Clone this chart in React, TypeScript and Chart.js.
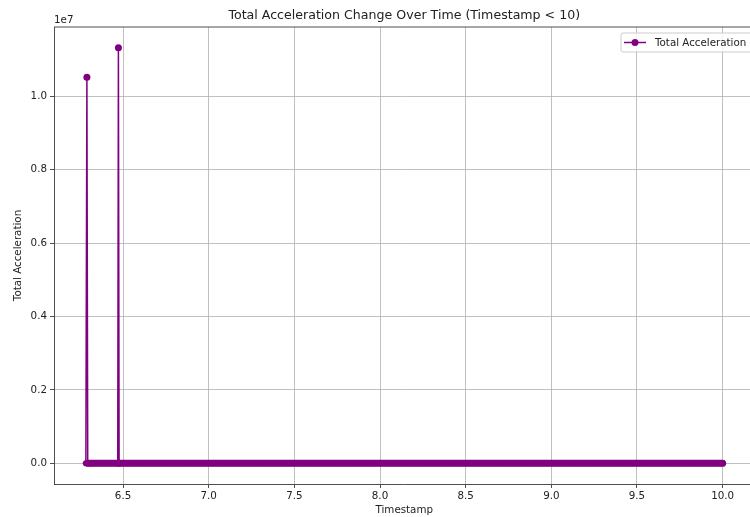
import { useEffect, useRef } from "react";
import { Chart, registerables } from "chart.js";

Chart.register(...registerables);

const TITLE = "Total Acceleration Change Over Time (Timestamp < 10)";
const X_LABEL = "Timestamp";
const Y_LABEL = "Total Acceleration";
const SERIES_LABEL = "Total Acceleration";
const Y_OFFSET_TEXT = "1e7";
const X_TICKS = [6.5, 7.0, 7.5, 8.0, 8.5, 9.0, 9.5, 10.0];
const Y_TICKS = [0, 0.2e7, 0.4e7, 0.6e7, 0.8e7, 1.0e7];

const timestamps = [
  6.283, 6.289, 6.294, 6.3, 6.31, 6.32, 6.33, 6.35, 6.37, 6.39, 6.41, 6.43, 6.45, 6.469, 6.473, 6.477,
  6.49, 6.51, 6.53, 6.55, 6.57, 6.59, 6.61, 6.63, 6.65, 6.67,
  6.69, 6.71, 6.73, 6.75, 6.77, 6.79, 6.81, 6.83, 6.85, 6.87,
  6.89, 6.91, 6.93, 6.95, 6.97, 6.99, 7.01, 7.03, 7.05, 7.07,
  7.09, 7.11, 7.13, 7.15, 7.17, 7.19, 7.21, 7.23, 7.25, 7.27,
  7.29, 7.31, 7.33, 7.35, 7.37, 7.39, 7.41, 7.43, 7.45, 7.47,
  7.49, 7.51, 7.53, 7.55, 7.57, 7.59, 7.61, 7.63, 7.65, 7.67,
  7.69, 7.71, 7.73, 7.75, 7.77, 7.79, 7.81, 7.83, 7.85, 7.87,
  7.89, 7.91, 7.93, 7.95, 7.97, 7.99, 8.01, 8.03, 8.05, 8.07,
  8.09, 8.11, 8.13, 8.15, 8.17, 8.19, 8.21, 8.23, 8.25, 8.27,
  8.29, 8.31, 8.33, 8.35, 8.37, 8.39, 8.41, 8.43, 8.45, 8.47,
  8.49, 8.51, 8.53, 8.55, 8.57, 8.59, 8.61, 8.63, 8.65, 8.67,
  8.69, 8.71, 8.73, 8.75, 8.77, 8.79, 8.81, 8.83, 8.85, 8.87,
  8.89, 8.91, 8.93, 8.95, 8.97, 8.99, 9.01, 9.03, 9.05, 9.07,
  9.09, 9.11, 9.13, 9.15, 9.17, 9.19, 9.21, 9.23, 9.25, 9.27,
  9.29, 9.31, 9.33, 9.35, 9.37, 9.39, 9.41, 9.43, 9.45, 9.47,
  9.49, 9.51, 9.53, 9.55, 9.57, 9.59, 9.61, 9.63, 9.65, 9.67,
  9.69, 9.71, 9.73, 9.75, 9.77, 9.79, 9.81, 9.83, 9.85, 9.87,
  9.89, 9.91, 9.93, 9.95, 9.97, 9.99, 10.0,
];

const accel = [
  0, 1.052e7, 0, 0, 0, 0, 0, 0, 0, 0, 0, 0, 0, 0, 1.132e7, 0,
  0, 0, 0, 0, 0, 0, 0, 0, 0, 0,
  0, 0, 0, 0, 0, 0, 0, 0, 0, 0,
  0, 0, 0, 0, 0, 0, 0, 0, 0, 0,
  0, 0, 0, 0, 0, 0, 0, 0, 0, 0,
  0, 0, 0, 0, 0, 0, 0, 0, 0, 0,
  0, 0, 0, 0, 0, 0, 0, 0, 0, 0,
  0, 0, 0, 0, 0, 0, 0, 0, 0, 0,
  0, 0, 0, 0, 0, 0, 0, 0, 0, 0,
  0, 0, 0, 0, 0, 0, 0, 0, 0, 0,
  0, 0, 0, 0, 0, 0, 0, 0, 0, 0,
  0, 0, 0, 0, 0, 0, 0, 0, 0, 0,
  0, 0, 0, 0, 0, 0, 0, 0, 0, 0,
  0, 0, 0, 0, 0, 0, 0, 0, 0, 0,
  0, 0, 0, 0, 0, 0, 0, 0, 0, 0,
  0, 0, 0, 0, 0, 0, 0, 0, 0, 0,
  0, 0, 0, 0, 0, 0, 0, 0, 0, 0,
  0, 0, 0, 0, 0, 0, 0, 0, 0, 0,
  0, 0, 0, 0, 0, 0, 0,
];

const FONT = "'DejaVu Sans', sans-serif";
const PURPLE = "#800080";
const TEXT = "#222";
const TICK_SIZE = 10.3;

export default function App() {
  const ref = useRef<HTMLCanvasElement>(null);

  useEffect(() => {
    const canvas = ref.current;
    if (!canvas) return;

    const overlay = {
      id: "mplOverlay",
      afterDraw(chart: any) {
        const ctx = chart.ctx as CanvasRenderingContext2D;
        const a = chart.chartArea;
        ctx.save();
        ctx.strokeStyle = TEXT;
        ctx.lineWidth = 0.8;
        ctx.beginPath();
        ctx.moveTo(a.left, a.top);
        ctx.lineTo(a.right, a.top);
        ctx.lineTo(a.right, a.bottom);
        ctx.stroke();

        ctx.fillStyle = TEXT;
        ctx.font = `12.6px ${FONT}`;
        ctx.textAlign = "center";
        ctx.textBaseline = "middle";
        ctx.fillText(TITLE, (a.left + a.right) / 2, 16);
        ctx.font = `${TICK_SIZE}px ${FONT}`;
        ctx.fillText(X_LABEL, (a.left + a.right) / 2, 510);
        ctx.save();
        ctx.translate(18, (a.top + a.bottom) / 2);
        ctx.rotate(-Math.PI / 2);
        ctx.fillText(Y_LABEL, 0, 0);
        ctx.restore();
        ctx.textAlign = "left";
        ctx.textBaseline = "alphabetic";
        ctx.fillText(Y_OFFSET_TEXT, a.left, 23);

        const bx = 621, by = 33, bw = 131, bh = 19;
        ctx.beginPath();
        ctx.roundRect(bx, by, bw, bh, 2);
        ctx.fillStyle = "rgba(255,255,255,0.8)";
        ctx.fill();
        ctx.strokeStyle = "#cccccc";
        ctx.lineWidth = 1;
        ctx.stroke();
        const ly = by + bh / 2;
        ctx.strokeStyle = PURPLE;
        ctx.lineWidth = 1.5;
        ctx.beginPath();
        ctx.moveTo(624, ly);
        ctx.lineTo(646, ly);
        ctx.stroke();
        ctx.fillStyle = PURPLE;
        ctx.beginPath();
        ctx.arc(635, ly, 3.5, 0, Math.PI * 2);
        ctx.fill();
        ctx.fillStyle = TEXT;
        ctx.font = `${TICK_SIZE}px ${FONT}`;
        ctx.textBaseline = "middle";
        ctx.fillText(SERIES_LABEL, 655, ly + 0.5);
        ctx.restore();
      },
    };

    const flat = (c: any) => c.p0.parsed.y === 0 && c.p1.parsed.y === 0;

    const chart = new Chart(canvas, {
      type: "line",
      data: {
        datasets: [
          {
            label: SERIES_LABEL,
            data: timestamps.map((t, i) => ({ x: t, y: accel[i] })),
            borderColor: PURPLE,
            backgroundColor: PURPLE,
            borderWidth: 1.5,
            pointRadius: (c: any) => (c.raw && c.raw.y === 0 ? 3.1 : 3.5),
            pointBorderWidth: 0,
            pointHoverRadius: 3.5,
            pointBackgroundColor: PURPLE,
            tension: 0,
            borderCapStyle: "round",
            borderJoinStyle: "round",
            clip: false as any,
            segment: {
              borderWidth: (c: any) => (flat(c) ? 7 : 1.5),
            },
          } as any,
        ],
      },
      options: {
        animation: false,
        responsive: false,
        maintainAspectRatio: false,
        events: [],
        layout: { padding: { top: 27, right: 1, left: 0, bottom: 0 } },
        plugins: {
          legend: { display: false },
          title: { display: false },
          tooltip: { enabled: false },
        },
        scales: {
          x: {
            type: "linear",
            min: 6.097,
            max: 10.186,
            afterBuildTicks: (s: any) => {
              s.ticks = X_TICKS.map((v) => ({ value: v }));
            },
            afterFit: (s: any) => {
              s.height = 33;
            },
            ticks: {
              callback: (v: any) => Number(v).toFixed(1),
              color: TEXT,
              font: { family: FONT, size: TICK_SIZE },
              padding: 2,
              maxRotation: 0,
              autoSkip: false,
            },
            grid: {
              color: "#b0b0b0",
              lineWidth: 0.8,
              tickColor: TEXT,
              tickLength: 4,
              drawTicks: true,
            },
            border: { color: TEXT, width: 0.8 },
          },
          y: {
            type: "linear",
            min: -0.0566e7,
            max: 1.1886e7,
            afterBuildTicks: (s: any) => {
              s.ticks = Y_TICKS.map((v) => ({ value: v }));
            },
            afterFit: (s: any) => {
              s.width = 54;
            },
            ticks: {
              callback: (v: any) => (Number(v) / 1e7).toFixed(1),
              color: TEXT,
              font: { family: FONT, size: TICK_SIZE },
              padding: 3,
              autoSkip: false,
            },
            grid: {
              color: "#b0b0b0",
              lineWidth: 0.8,
              tickColor: TEXT,
              tickLength: 4,
              drawTicks: true,
            },
            border: { color: TEXT, width: 0.8 },
          },
        },
      },
      plugins: [overlay],
    });

    return () => chart.destroy();
  }, []);

  return (
    <div
      style={{
        position: "fixed",
        left: 0,
        top: 0,
        width: 750,
        height: 517,
        overflow: "hidden",
        background: "#fff",
      }}
    >
      <canvas ref={ref} width={758} height={517} style={{ width: 758, height: 517, display: "block" }} />
    </div>
  );
}
